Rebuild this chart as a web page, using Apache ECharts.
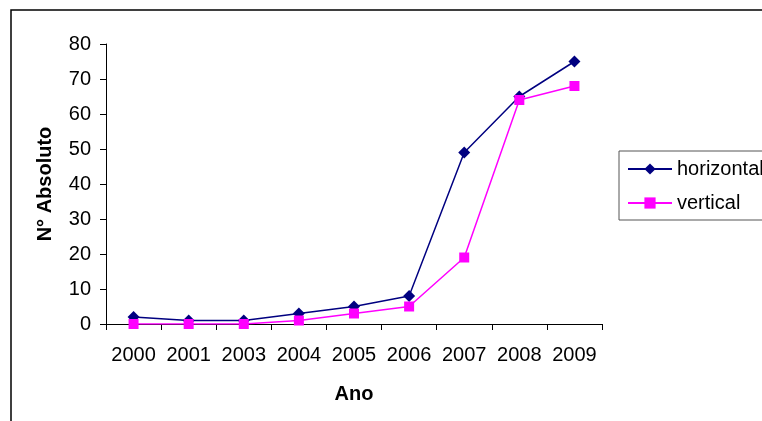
<!DOCTYPE html>
<html>
<head>
<meta charset="utf-8">
<script src="https://cdn.jsdelivr.net/npm/echarts@6/dist/echarts.min.js"></script>
<style>
  html, body { margin: 0; padding: 0; background: #fff; }
  #chart { width: 762px; height: 421px; }
</style>
</head>
<body>
<div id="chart"></div>
<script>
const anos = ['2000', '2001', '2003', '2004', '2005', '2006', '2007', '2008', '2009'];
const horizontal = [2, 1, 1, 3, 5, 8, 49, 65, 75];
const vertical = [0, 0, 0, 1, 3, 5, 19, 64, 68];

const fonte = 'Liberation Sans, Arial, sans-serif';
const chart = echarts.init(document.getElementById('chart'));
chart.setOption({
  animation: false,
  textStyle: { fontFamily: fonte },
  graphic: [{
    type: 'rect',
    shape: { x: 11, y: 10, width: 900, height: 600 },
    style: { fill: 'none', stroke: '#000', lineWidth: 1.5 },
    silent: true
  }],
  legend: {
    orient: 'vertical',
    left: 619,
    top: 151,
    padding: [8, 60, 7, 8],
    itemWidth: 44,
    itemHeight: 14,
    itemGap: 14,
    borderColor: '#555',
    borderWidth: 1,
    textStyle: { fontSize: 20, color: '#000', fontFamily: fonte },
    data: ['horizontal', 'vertical']
  },
  grid: { left: 106, right: 160, top: 44, bottom: 97 },
  xAxis: {
    type: 'category',
    data: anos,
    boundaryGap: true,
    name: 'Ano',
    nameLocation: 'middle',
    nameGap: 60,
    nameTextStyle: { fontSize: 20, fontWeight: 'bold', color: '#000' },
    axisLine: { lineStyle: { color: '#000', width: 1 } },
    axisTick: { show: true, interval: 0, length: 6, lineStyle: { color: '#000' } },
    axisLabel: { interval: 0, hideOverlap: false, fontSize: 20, color: '#000', margin: 21 },
    splitLine: { show: false }
  },
  yAxis: {
    type: 'value',
    min: 0,
    max: 80,
    interval: 10,
    name: 'N° Absoluto',
    nameLocation: 'middle',
    nameGap: 51,
    nameRotate: 90,
    nameTextStyle: { fontSize: 20, fontWeight: 'bold', color: '#000' },
    axisLine: { show: true, lineStyle: { color: '#000', width: 1 } },
    axisTick: { show: true, length: 6, lineStyle: { color: '#000' } },
    axisLabel: { fontSize: 20, color: '#000', margin: 15 },
    splitLine: { show: false }
  },
  series: [
    {
      name: 'horizontal',
      type: 'line',
      data: horizontal,
      symbol: 'diamond',
      symbolSize: 12,
      color: '#000080',
      lineStyle: { width: 1.5, color: '#000080' },
      itemStyle: { color: '#000080' }
    },
    {
      name: 'vertical',
      type: 'line',
      data: vertical,
      symbol: 'rect',
      symbolSize: 10,
      color: '#ff00ff',
      lineStyle: { width: 1.5, color: '#ff00ff' },
      itemStyle: { color: '#ff00ff' }
    }
  ]
});
</script>
</body>
</html>
